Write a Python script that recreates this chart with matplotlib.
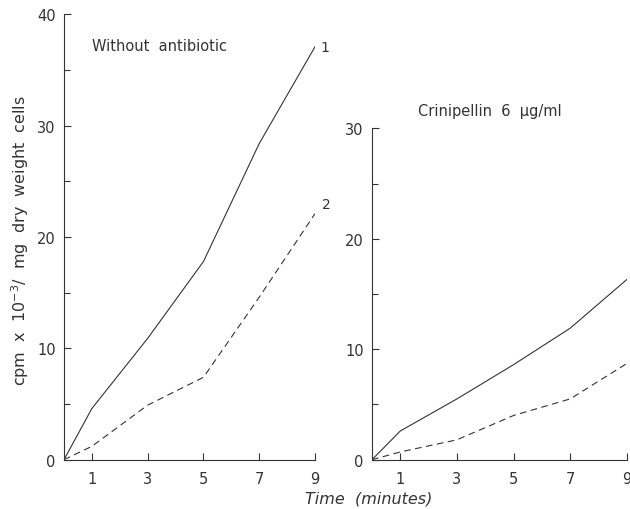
import matplotlib
matplotlib.use("Agg")
import matplotlib.pyplot as plt
from matplotlib.ticker import MultipleLocator

# time points (minutes)
time = [0, 1, 3, 5, 7, 9]

# without antibiotic
ctrl_1 = [0, 4.6, 10.9, 17.8, 28.4, 37.1]
ctrl_2 = [0, 1.2, 4.9, 7.4, 14.6, 22.1]

# crinipellin 6 ug/ml
crin_1 = [0, 2.6, 5.5, 8.6, 11.9, 16.3]
crin_2 = [0, 0.7, 1.8, 4.0, 5.5, 8.7]

x_ticks = [1, 3, 5, 7, 9]
ink = "#333333"

plt.rcParams["font.family"] = "DejaVu Sans"

fig = plt.figure(figsize=(6.3, 5.1), dpi=100)
ax1 = fig.add_axes([0.1016, 0.0967, 0.3984, 0.873])
ax2 = fig.add_axes([0.5905, 0.0967, 0.4043, 0.6498])


def style_axis(ax, ymax):
    ax.set_xlim(0, 9)
    ax.set_ylim(0, ymax)
    for side in ["top", "right"]:
        ax.spines[side].set_visible(False)
    for side in ["left", "bottom"]:
        ax.spines[side].set_color(ink)
        ax.spines[side].set_linewidth(0.8)
    ax.set_xticks(x_ticks)
    ax.yaxis.set_major_locator(MultipleLocator(10))
    ax.yaxis.set_minor_locator(MultipleLocator(5))
    ax.tick_params(which="both", direction="in", color=ink, width=0.8,
                   labelcolor=ink, labelsize=10.5)
    ax.tick_params(which="major", length=5)
    ax.tick_params(which="minor", length=4)
    ax.tick_params(axis="x", pad=8)
    ax.tick_params(axis="y", pad=6)


# left panel
ax1.plot(time, ctrl_1, color=ink, lw=0.8)
ax1.plot(time, ctrl_2, color=ink, lw=0.8, dashes=(6, 4))
style_axis(ax1, 40)
ax1.text(0.11, 0.931, "Without  antibiotic", transform=ax1.transAxes,
         fontsize=10.5, color=ink, va="center")
ax1.annotate("1", (time[-1], ctrl_1[-1]), xytext=(4, 0), textcoords="offset points",
             fontsize=10, color=ink, ha="left", va="center")
ax1.annotate("2", (time[-1], ctrl_2[-1]), xytext=(5, 7), textcoords="offset points",
             fontsize=10, color=ink, ha="left", va="center")
ax1.set_ylabel("cpm  x  $10^{-3}$/  mg  dry  weight  cells", color=ink, fontsize=11.5)
ax1.yaxis.set_label_coords(-0.13, 0.495)

# right panel
ax2.plot(time, crin_1, color=ink, lw=0.8)
ax2.plot(time, crin_2, color=ink, lw=0.8, dashes=(6, 4))
style_axis(ax2, 30)
ax2.text(0.18, 1.053, "Crinipellin  6  \u03bcg/ml", transform=ax2.transAxes,
         fontsize=10.5, color=ink, va="center")

fig.text(0.585, 0.022, "Time  (minutes)", ha="center", va="center",
         fontsize=11.5, color=ink, style="italic")

fig.savefig("out.png", dpi=100)
